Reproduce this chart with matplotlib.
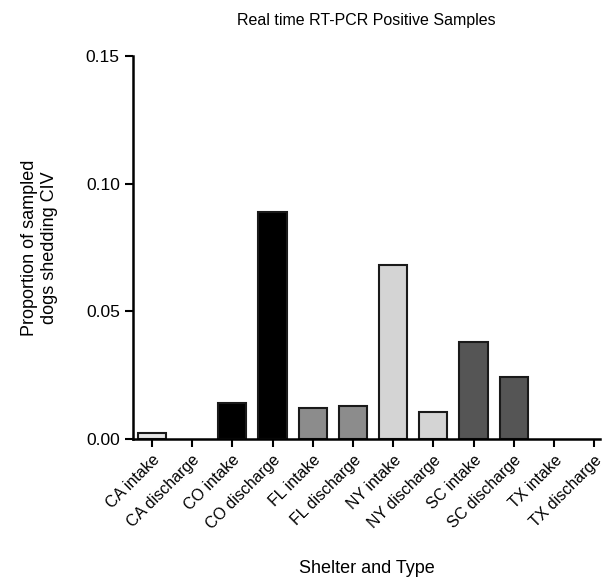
import matplotlib.pyplot as plt
import numpy as np

plt.rcParams['font.family'] = ['Liberation Sans', 'DejaVu Sans']

# Data
categories = ['CA intake', 'CA discharge', 'CO intake', 'CO discharge',
              'FL intake', 'FL discharge', 'NY intake', 'NY discharge',
              'SC intake', 'SC discharge', 'TX intake', 'TX discharge']
values = [0.0023, 0.0, 0.014, 0.0888, 0.012, 0.013, 0.068, 0.0107,
          0.038, 0.0243, 0.0, 0.0]
shelter_colors = ['#e6e6e6', '#e6e6e6', '#000000', '#000000', '#8c8c8c', '#8c8c8c',
                  '#d4d4d4', '#d4d4d4', '#555555', '#555555', '#ffffff', '#ffffff']

fig = plt.figure(figsize=(6.10, 5.77), dpi=100)
ax = fig.add_axes([0.218, 0.239, 0.766, 0.664])

x = np.arange(len(categories))
for xi, v, c in zip(x, values, shelter_colors):
    if v > 0:
        ax.bar(xi, v, width=0.7, color=c, edgecolor='#1a1a1a', linewidth=1.5)

ax.set_xlim(-0.47, 11.15)
ax.set_ylim(0, 0.15)
ax.set_yticks([0.00, 0.05, 0.10, 0.15])
ax.set_yticklabels(['0.00', '0.05', '0.10', '0.15'], fontsize=12.5)
ax.set_xticks(x)
ax.set_xticklabels(categories, rotation=45, ha='right', rotation_mode='anchor', fontsize=11.5)

for side in ['top', 'right']:
    ax.spines[side].set_visible(False)
for side in ['left', 'bottom']:
    ax.spines[side].set_linewidth(1.8)
ax.tick_params(direction='out', width=1.5, length=6)

ax.set_title('Real time RT-PCR Positive Samples', fontsize=11.5, pad=22)
ax.set_ylabel('Proportion of sampled\ndogs shedding CIV', fontsize=13, labelpad=20)
ax.set_xlabel('Shelter and Type', fontsize=13, labelpad=20)

plt.savefig('out.png', dpi=100)
